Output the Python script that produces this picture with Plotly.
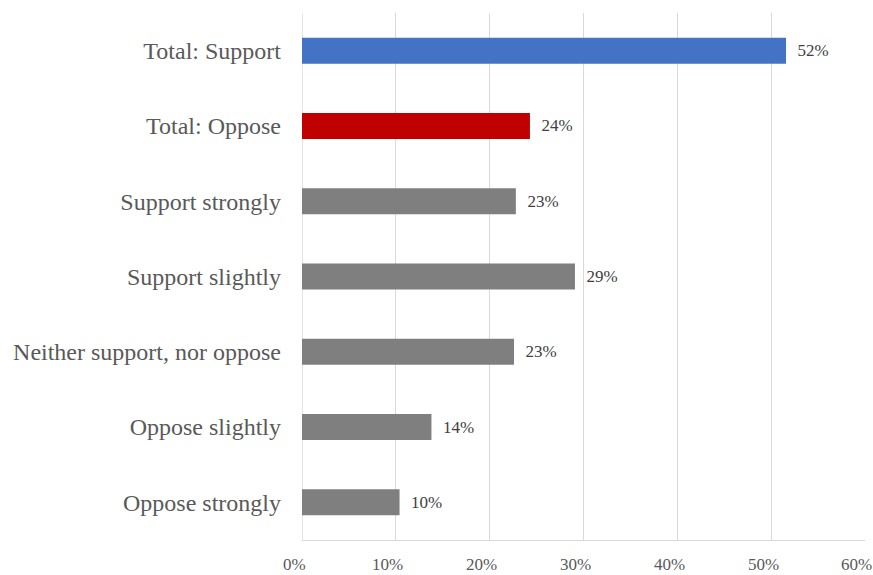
import plotly.graph_objects as go

categories = ["Total: Support", "Total: Oppose", "Support strongly", "Support slightly",
              "Neither support, nor oppose", "Oppose slightly", "Oppose strongly"]
values = [51.6, 24.3, 22.8, 29.1, 22.6, 13.8, 10.4]
colors = ["#4472C4", "#C00000", "#7F7F7F", "#7F7F7F", "#7F7F7F", "#7F7F7F", "#7F7F7F"]
tick_vals = [0, 10, 20, 30, 40, 50, 60]
tick_text = ["0%", "10%", "20%", "30%", "40%", "50%", "60%"]

labels = [f"  {round(v)}%" for v in values]

fig = go.Figure(go.Bar(
    y=categories, x=values, orientation="h",
    marker=dict(color=colors, line=dict(width=0)),
    width=0.345,
    text=labels, textposition="outside",
    textfont=dict(family="Liberation Serif", size=17, color="#404040"),
    cliponaxis=False,
))

fig.update_layout(
    width=873, height=575,
    margin=dict(l=302, r=8, t=13, b=35),
    plot_bgcolor="white", paper_bgcolor="white",
    showlegend=False,
    font=dict(family="Liberation Serif", color="#595959"),
)
fig.update_xaxes(
    range=[0, 60.02], tickvals=tick_vals, showticklabels=False,
    showgrid=True, gridcolor="#D9D9D9", gridwidth=1.3,
    showline=True, linecolor="#D9D9D9", linewidth=1.3,
    zeroline=False, ticks="", automargin=False,
)
fig.update_yaxes(
    categoryorder="array", categoryarray=categories[::-1],
    showgrid=False, showline=False, zeroline=False, ticks="",
    tickfont=dict(size=24, color="#595959"),
    ticklabelstandoff=20, automargin=False,
)
for v, t in zip(tick_vals, tick_text):
    fig.add_annotation(x=v, y=0, xref="x", yref="paper", text=t, showarrow=False,
                       xanchor="center", yanchor="middle", xshift=-8, yshift=-24,
                       borderpad=0,
                       font=dict(family="Liberation Serif", size=17, color="#595959"))
fig.add_shape(type="line", xref="x", yref="paper", x0=0, x1=0, y0=0, y1=1,
              line=dict(color="#D9D9D9", width=1.3), layer="below")

fig.write_html("out.html")
